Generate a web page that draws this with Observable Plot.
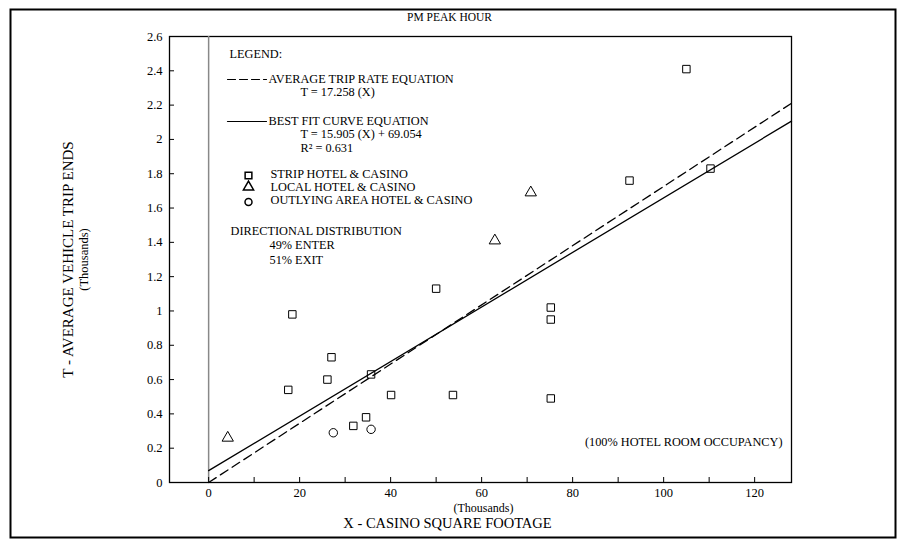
<!DOCTYPE html>
<html><head><meta charset="utf-8">
<script src="https://cdn.jsdelivr.net/npm/d3@7"></script>
<script src="https://cdn.jsdelivr.net/npm/@observablehq/plot@0.6"></script>
<style>body{margin:0;background:#fff;} svg{display:block;}</style>
</head><body><div id="chart"></div>
<script>
// Strip hotel & casino (x: thousand sq ft, y: thousand trip ends)
const stripX = [17.5, 18.4, 26.1, 27.0, 31.8, 34.6, 35.7, 40.1, 50.0, 53.7, 75.2, 75.2, 75.2, 92.5, 105.0, 110.3];
const stripY = [0.54, 0.98, 0.60, 0.73, 0.33, 0.38, 0.63, 0.51, 1.13, 0.51, 1.02, 0.95, 0.49, 1.76, 2.41, 1.83];
// Local hotel & casino
const localX = [4.2, 62.9, 70.8];
const localY = [0.26, 1.41, 1.69];
// Outlying area hotel & casino
const outX = [27.4, 35.7];
const outY = [0.29, 0.31];
// Equations (T in trips, X in thousand sq ft)
const avgRate = 17.258;
const fitSlope = 15.905;
const fitIntercept = 69.054;
const rSquared = 0.631;
// Ticks
const xTickMarks = [0, 10, 20, 30, 40, 50, 60, 70, 80, 90, 100, 110, 120];
const xTickLabels = [0, 20, 40, 60, 80, 100, 120];
const yTicks = [0, 0.2, 0.4, 0.6, 0.8, 1, 1.2, 1.4, 1.6, 1.8, 2, 2.2, 2.4, 2.6];
const xDomain = [-8.6, 128.1];
const yDomain = [0, 2.6];

const W = 898, H = 539, mL = 169, mR = 107, mT = 36, mB = 57;
const innerW = W - mL - mR, innerH = H - mT - mB;
const FONT = "Liberation Serif, Times New Roman, serif";
const LF = 12.3;

const pts = [
  ...stripX.map((x, i) => ({x, y: stripY[i], s: "square"})),
  ...localX.map((x, i) => ({x, y: localY[i], s: "triangle"})),
  ...outX.map((x, i) => ({x, y: outY[i], s: "circle"}))
];
const xEnd = xDomain[1];
const avgLine = [0, xEnd].map(x => ({x, y: avgRate * x / 1000}));
const fitLine = [0, xEnd].map(x => ({x, y: (fitSlope * x + fitIntercept) / 1000}));

const lineShape = {draw(ctx, l) { ctx.moveTo(0, 0); ctx.lineTo(0, -l); }};
const T = (s, dx, dy, o = {}) => Plot.text([s], {frameAnchor: "top-left", dx, dy, textAnchor: "start", lineAnchor: "middle", fontSize: LF, ...o});

const chart = Plot.plot({
  width: W, height: H,
  marginLeft: mL, marginRight: mR, marginTop: mT, marginBottom: mB,
  style: {fontFamily: FONT, color: "#000", background: "#fff"},
  x: {domain: xDomain, label: null},
  y: {domain: yDomain, label: null},
  symbol: {domain: ["square", "triangle", "circle"], range: ["square", "triangle", "circle"]},
  marks: [
    Plot.frame({stroke: "#000", strokeWidth: 2, insetLeft: -(mL - 10), insetTop: -(mT - 9), insetRight: -(mR - 3), insetBottom: -(mB - 2)}),
    Plot.frame({stroke: "#000", strokeWidth: 1.3}),
    Plot.ruleX([0], {stroke: "#888", strokeWidth: 1.5}),
    Plot.ruleX(xTickMarks, {x: d => d, insetTop: innerH - 5, stroke: "#000"}),
    Plot.ruleY(yTicks, {y: d => d, insetRight: innerW - 5, stroke: "#000"}),
    Plot.axisX(xTickLabels, {tickSize: 0, tickPadding: 6, fontSize: 12.5, label: null}),
    Plot.axisY(yTicks, {tickSize: 0, tickPadding: 7, fontSize: 12.5, label: null, tickFormat: d => String(+d.toFixed(1))}),
    Plot.line(avgLine, {x: "x", y: "y", stroke: "#000", strokeWidth: 1.3, strokeDasharray: "9,5"}),
    Plot.line(fitLine, {x: "x", y: "y", stroke: "#000", strokeWidth: 1.3}),
    Plot.dot(pts, {x: "x", y: "y", symbol: "s", r: 4.2, stroke: "#000", strokeWidth: 1, fill: "none"}),
    // title and axis labels
    Plot.text(["PM PEAK HOUR"], {frameAnchor: "top", dx: -31, dy: -19, lineAnchor: "middle", fontSize: 11.5}),
    Plot.text(["T - AVERAGE VEHICLE TRIP ENDS"], {frameAnchor: "left", dx: -101, rotate: -90, textAnchor: "middle", lineAnchor: "middle", fontSize: 15}),
    Plot.text(["(Thousands)"], {frameAnchor: "left", dx: -86, rotate: -90, textAnchor: "middle", lineAnchor: "middle", fontSize: 12.5}),
    Plot.text(["(Thousands)"], {frameAnchor: "bottom", dx: 3, dy: 26, lineAnchor: "middle", fontSize: 12}),
    Plot.text(["X - CASINO SQUARE FOOTAGE"], {frameAnchor: "bottom", dx: -33, dy: 40.5, lineAnchor: "middle", fontSize: 14.5}),
    Plot.text(["(100% HOTEL ROOM OCCUPANCY)"], {frameAnchor: "bottom-right", dx: -9, dy: -40, textAnchor: "end", lineAnchor: "middle", fontSize: LF}),
    // legend
    T("LEGEND:", 60, 18),
    Plot.vector([0], {frameAnchor: "top-left", dx: 58, dy: 43, length: 39, rotate: 90, anchor: "start", shape: lineShape, stroke: "#000", strokeWidth: 1.2, strokeDasharray: "8,4"}),
    T("AVERAGE TRIP RATE EQUATION", 99, 42.5),
    T(`T = ${avgRate} (X)`, 131, 56),
    Plot.vector([0], {frameAnchor: "top-left", dx: 58, dy: 85, length: 39, rotate: 90, anchor: "start", shape: lineShape, stroke: "#000", strokeWidth: 1.2}),
    T("BEST FIT CURVE EQUATION", 99, 84.5),
    T(`T = ${fitSlope} (X) + ${fitIntercept}`, 131, 98),
    T(`R² = ${rSquared}`, 131, 111.5),
    Plot.dot(["square"], {frameAnchor: "top-left", dx: 79, dy: 139, symbol: d => d, r: 3.8, stroke: "#000", fill: "none"}),
    T("STRIP HOTEL & CASINO", 101, 138),
    Plot.dot(["triangle"], {frameAnchor: "top-left", dx: 79, dy: 150.5, symbol: d => d, r: 3.8, stroke: "#000", fill: "none"}),
    T("LOCAL HOTEL & CASINO", 101, 151),
    Plot.dot(["circle"], {frameAnchor: "top-left", dx: 79, dy: 165.5, symbol: d => d, r: 3.5, stroke: "#000", fill: "none"}),
    T("OUTLYING AREA HOTEL & CASINO", 101, 164),
    T("DIRECTIONAL DISTRIBUTION", 61, 195),
    T("49% ENTER", 100, 208.5),
    T("51% EXIT", 100, 224)
  ]
});
document.getElementById("chart").appendChild(chart);
</script>
</body></html>
